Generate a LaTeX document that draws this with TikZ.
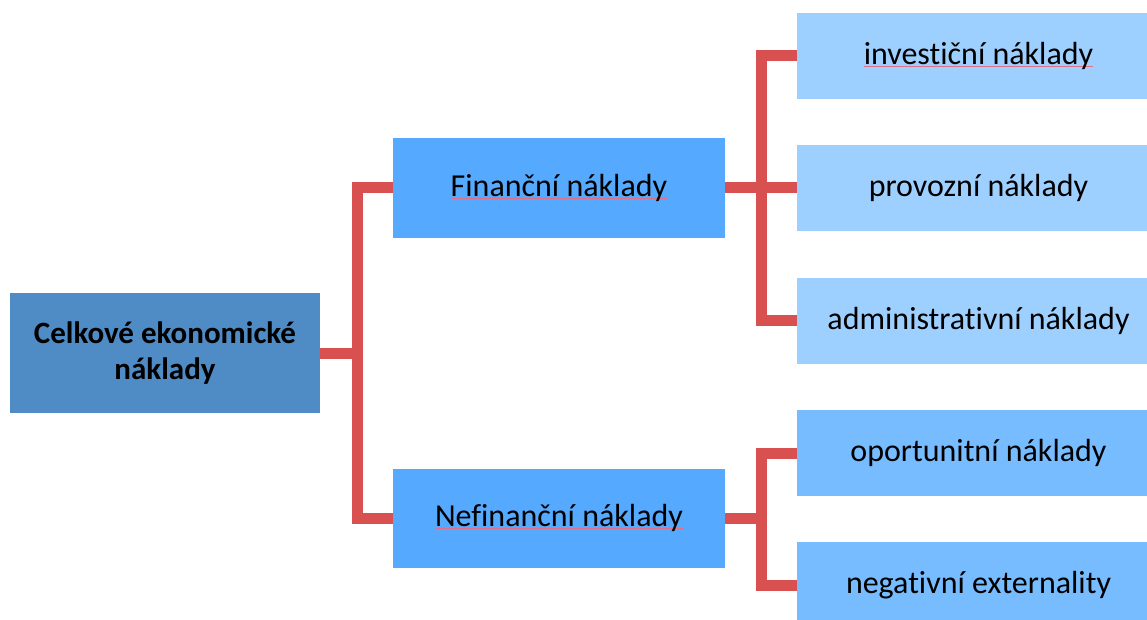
\documentclass[tikz,border=0pt]{standalone}
\usepackage{fontspec}
\setmainfont{Carlito}[Ligatures={NoCommon,NoContextual},RawFeature={-liga;-clig;-calt}]
\definecolor{rootblue}{HTML}{4F8BC5}
\definecolor{midblue}{HTML}{55AAFF}
\definecolor{lightblue}{HTML}{9ED0FF}
\definecolor{softblue}{HTML}{76BCFF}
\definecolor{connred}{HTML}{D95050}
\definecolor{spell}{HTML}{E07088}
\newcommand\spellmark[1]{\leavevmode\setbox0\hbox{#1}\rlap{\color{spell}\rule[-2.2pt]{\wd0}{0.9pt}}\box0}
\tikzset{
  box/.style={rectangle, inner sep=0pt, align=center, font=\fontsize{32}{38}\selectfont},
  rootbox/.style={box, fill=rootblue, minimum width=310pt, minimum height=120pt, font=\fontsize{31}{36}\selectfont\bfseries},
  midbox/.style={box, fill=midblue, minimum width=332pt, minimum height=99pt},
  leafA/.style={box, fill=lightblue, minimum width=363pt, minimum height=86pt},
  leafB/.style={box, fill=softblue, minimum width=363pt, minimum height=86pt},
  conn/.style={draw=connred, line width=11pt, line join=miter}
}
\begin{document}
\begin{tikzpicture}[x=1pt, y=-1pt]
\path[use as bounding box, clip] (0,0) rectangle (1147,620);
\node[rootbox] (root) at (165,353) {Celkové ekonomické\\náklady};
\node[midbox] (fin) at (559,188) {\spellmark{Finanční náklady}};
\node[midbox] (nefin) at (559,518) {\spellmark{Nefinanční náklady}};
\node[leafA] (inv) at (978.5,56) {\spellmark{investiční náklady}};
\node[leafA] (prov) at (978.5,188) {provozní náklady};
\node[leafA] (adm) at (978.5,320.5) {administrativní náklady};
\node[leafB] (op) at (978.5,453) {oportunitní náklady};
\node[leafB] (neg) at (978.5,585) {negativní externality};
\coordinate (jr) at (357,353);
\coordinate (jf) at (761,188);
\coordinate (jn) at (761,518);
\draw[conn] (root.east) -- ([xshift=5.5pt]jr);
\draw[conn] (fin.west) -| (jr) |- (nefin.west);
\draw[conn] (fin.east) -- (prov.west);
\draw[conn] (inv.west) -| (jf) |- (adm.west);
\draw[conn] (nefin.east) -- ([xshift=5.5pt]jn);
\draw[conn] (op.west) -| (jn) |- (neg.west);
\end{tikzpicture}
\end{document}
